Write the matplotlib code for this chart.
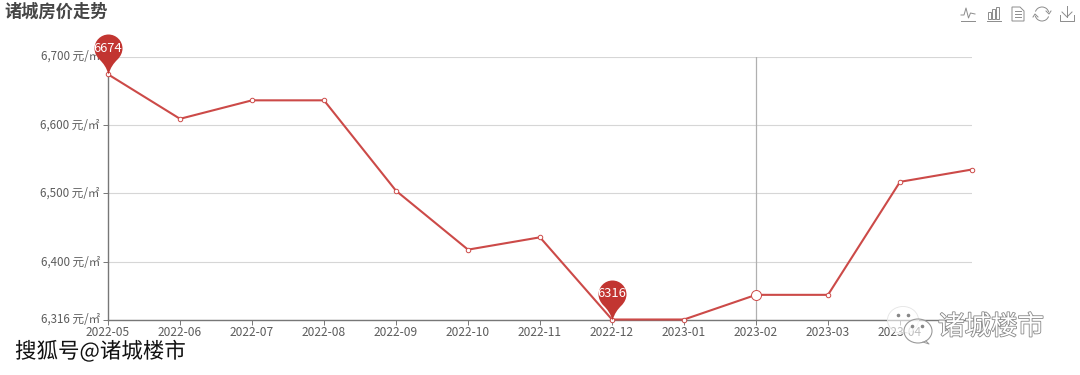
#!/usr/bin/env python3
"""诸城房价走势 line chart, echarts look."""
import matplotlib
matplotlib.use("Agg")
import matplotlib.pyplot as plt
import matplotlib.patheffects as pe
import matplotlib.transforms as mtrans
from matplotlib.patches import Ellipse, Polygon, Rectangle, Arc
from matplotlib.path import Path

plt.rcParams["font.family"] = ["Noto Sans CJK SC", "DejaVu Sans"]

# the last month has a point but no visible axis label in the picture
MONTHS = ["2022-05", "2022-06", "2022-07", "2022-08", "2022-09", "2022-10", "2022-11",
          "2022-12", "2023-01", "2023-02", "2023-03", "2023-04"]
PRICES = [6674, 6609, 6636, 6636, 6504, 6418, 6436, 6316, 6316, 6352, 6352, 6517, 6535]
YTICKS = [6316, 6400, 6500, 6600, 6700]
PINS = [(0, 6674), (7, 6316)]
HOVER = 9

RED = "#cc4a48"
PIN_RED = "#c23531"
GREY = "#777777"
W, H = 1080, 375

# pin marker, tip at origin, unit = 1 px, round head r=14 centred 26 px above the tip
PIN = Path([(0, 0), (-2, 7), (-5, 11), (-9, 15), (-12, 18), (-14, 22), (-14, 26),
            (-14, 33.7), (-7.7, 40), (0, 40), (7.7, 40), (14, 33.7), (14, 26),
            (14, 22), (12, 18), (9, 15), (5, 11), (2, 7), (0, 0), (0, 0)],
           [Path.MOVETO] + [Path.CURVE4] * 18 + [Path.CLOSEPOLY])
PIN_MS = 80 * 0.72   # matplotlib rescales custom paths by max abs vertex


def px(n):
    return n * 0.72


def draw_toolbox(ov):
    col = "#8c8c8c"
    lw = 0.7
    # line icon
    ov.plot([961, 964, 966, 968.5, 970.5, 975], [15, 15, 8, 18, 13, 14], color=col, lw=lw)
    ov.plot([961, 975], [21, 21], color=col, lw=lw)
    # bar icon
    for x, top in [(988, 12), (992, 9), (996, 7)]:
        ov.add_patch(Rectangle((x, top), 3, 19 - top, fill=False, ec=col, lw=lw))
    ov.plot([987, 1001], [21, 21], color=col, lw=lw)
    # data view icon
    ov.add_patch(Polygon([(1012, 7), (1020, 7), (1024, 11), (1024, 21), (1012, 21)],
                         closed=True, fill=False, ec=col, lw=lw))
    for y in (11, 14, 17):
        ov.plot([1015, 1021], [y, y], color=col, lw=lw)
    # refresh icon
    ov.add_patch(Arc((1042, 14), 14, 14, theta1=20, theta2=165, ec=col, lw=lw))
    ov.add_patch(Arc((1042, 14), 14, 14, theta1=200, theta2=345, ec=col, lw=lw))
    ov.plot([1046, 1049, 1051], [11, 14, 11], color=col, lw=lw)
    ov.plot([1033, 1035, 1038], [17, 14, 17], color=col, lw=lw)
    # save icon
    ov.plot([1067, 1067], [6, 17], color=col, lw=lw)
    ov.plot([1062, 1067, 1072], [12, 17, 12], color=col, lw=lw)
    ov.plot([1060, 1060, 1074, 1074], [15, 21, 21, 15], color=col, lw=lw)


def draw_watermarks(ov):
    ov.text(15, 352, "搜狐号@诸城楼市", fontsize=px(21.5), color="#111111", va="center",
            path_effects=[pe.withStroke(linewidth=1.8, foreground="white")], zorder=10)
    ov.text(938, 327, "诸城楼市", fontsize=px(26.5), color="white", va="center",
            path_effects=[pe.withStroke(linewidth=1.2, foreground="#888888")], zorder=10)
    ov.add_patch(Ellipse((903, 320), 31, 27, fc=(1, 1, 1, 0.6), ec="#e4e4e4", lw=0.6, zorder=9))
    ov.add_patch(Ellipse((918, 331), 28, 24, fc=(1, 1, 1, 0.6), ec="#999999", lw=0.8, zorder=9))
    ov.plot([926, 929, 923], [341, 344, 342], color="#999999", lw=0.7, zorder=9)
    ov.scatter([898, 908, 912, 922], [315, 315, 326, 326], s=2.5, color="#888888", zorder=10)


def main():
    fig = plt.figure(figsize=(W / 100, H / 100), dpi=100, facecolor="white")
    ax = fig.add_axes([108 / W, 1 - 319.5 / H, (972 - 108) / W, (319.5 - 56.5) / H])
    ax.set_xlim(0, len(PRICES) - 1)
    ax.set_ylim(6316, 6700)

    for s in ("top", "right"):
        ax.spines[s].set_visible(False)
    for s in ("left", "bottom"):
        ax.spines[s].set_color(GREY)
        ax.spines[s].set_linewidth(1.0)

    ax.set_xticks(range(len(MONTHS)))
    ax.set_xticklabels(MONTHS)
    ax.set_yticks(YTICKS)
    ax.set_yticklabels([f"{v:,} 元/㎡" for v in YTICKS])
    ax.tick_params(axis="both", colors=GREY, labelcolor="#5c5c5c", labelsize=px(12),
                   length=px(5), width=0.7, pad=px(2))
    ax.tick_params(axis="y", labelsize=px(11.6), pad=px(3))
    ax.tick_params(axis="x", pad=px(1))
    # labels sit a little above their ticks in the reference
    up = mtrans.ScaledTranslation(0, px(1.5) / 72, fig.dpi_scale_trans)
    for lab in ax.get_yticklabels():
        lab.set_transform(lab.get_transform() + up)
    ax.grid(axis="y", color="#d6d6d6", lw=0.8)
    ax.set_axisbelow(True)

    ax.axvline(HOVER, color="#b0b0b0", lw=0.9, zorder=2)
    ax.plot(range(len(PRICES)), PRICES, color=RED, lw=1.5, marker="o", ms=px(4.5),
            mfc="white", mec=RED, mew=0.7, clip_on=False, zorder=3)
    ax.plot([HOVER], [PRICES[HOVER]], marker="o", ms=px(10), mfc="white", mec=RED, mew=0.7,
            clip_on=False, zorder=4)

    for i, v in PINS:
        ax.plot([i], [v], marker=PIN, ms=PIN_MS, mfc=PIN_RED, mec="none", clip_on=False, zorder=5)
        ax.annotate(str(v), (i, v), xytext=(0, px(26)), textcoords="offset points",
                    ha="center", va="center", color="white", fontsize=px(13), zorder=6,
                    annotation_clip=False)

    # overlay in pixel coordinates for title, toolbox, watermarks
    ov = fig.add_axes([0, 0, 1, 1], facecolor="none")
    ov.set_xlim(0, W)
    ov.set_ylim(H, 0)
    ov.axis("off")
    ov.text(4, 12, "诸城房价走势", fontsize=px(17.2), fontweight="bold", color="#464646", va="center")
    draw_toolbox(ov)
    draw_watermarks(ov)

    fig.savefig("out.png", dpi=100)


if __name__ == "__main__":
    main()
